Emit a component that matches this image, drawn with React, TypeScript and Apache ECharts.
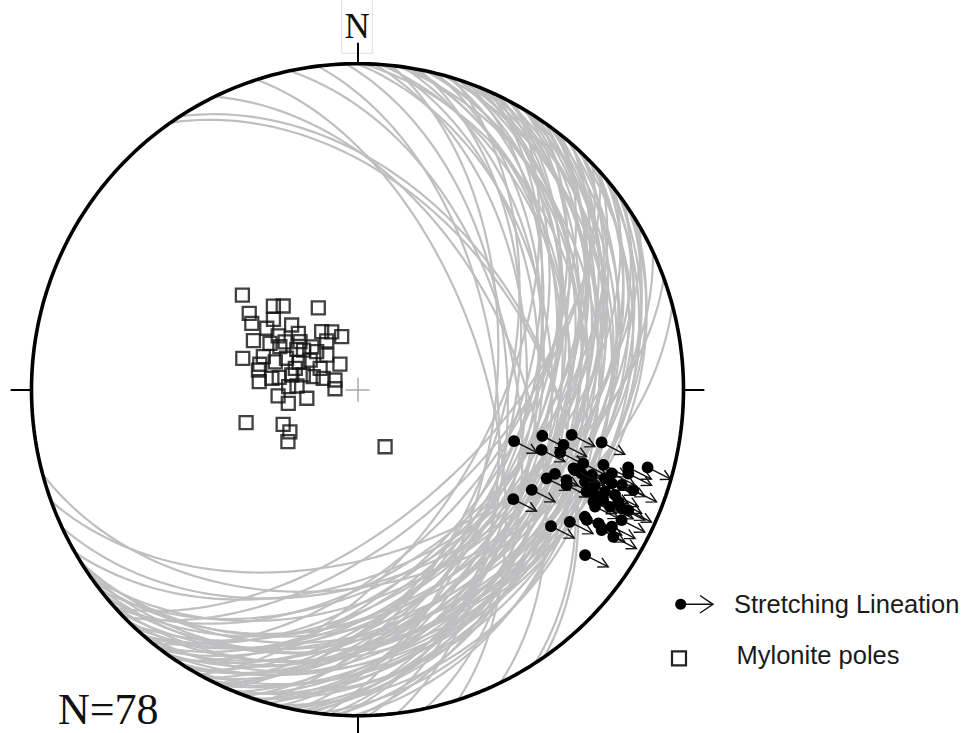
import React, { useEffect, useRef } from "react";
import * as echarts from "echarts";

// ---------------- data (orientations in degrees) ----------------
// Mylonite foliation planes: [dip direction, dip]
const planes: [number, number][] = [
  [55, 45], [57, 44], [64, 50], [72, 58], [78, 50], [83, 55],
  [165, 40], [155, 42], [150, 45], [160, 48],
  [88, 52], [90, 40], [91, 30], [93, 47], [94, 35], [96, 55], [97, 27], [98, 43],
  [100, 38], [101, 50], [102, 31], [104, 45], [105, 24], [106, 41], [107, 53], [108, 34],
  [109, 28], [110, 47], [111, 37], [112, 42], [113, 25], [114, 50], [115, 33], [116, 44],
  [117, 29], [118, 39], [119, 56], [120, 26], [121, 45], [122, 35], [123, 31], [124, 49],
  [125, 40], [126, 27], [127, 43], [128, 36], [129, 52], [130, 30], [131, 46], [132, 24],
  [133, 38], [134, 42], [135, 28], [136, 55], [137, 33], [138, 47], [139, 25], [140, 37],
  [141, 30], [142, 44], [143, 27], [144, 35], [145, 40], [146, 26], [147, 32], [148, 29],
  [99, 36], [103, 33], [112, 30], [118, 46], [121, 38], [126, 34], [131, 41], [95, 44],
  [108, 39], [115, 48], [138, 58], [128, 45],
];

// Mylonite poles: [trend, plunge]
const poles: [number, number][] = [
  [309.4, 52.3], [314.8, 60.2], [318.4, 61.9], [334.4, 67.3], [305.2, 56.6],
  [309.9, 62.5], [302.1, 58.6], [304.1, 62.5], [314.5, 66.9], [304.1, 66.0],
  [313.6, 69.6], [328.3, 73.0], [336.0, 74.2], [343.4, 76.2], [295.2, 61.1],
  [297.9, 65.2], [303.5, 68.3], [309.9, 71.3], [313.2, 74.4], [327.8, 75.6],
  [303.6, 71.8], [285.3, 60.1], [284.6, 64.7], [288.7, 68.3], [293.9, 70.6],
  [295.1, 73.9], [302.0, 76.1], [318.4, 78.5], [299.7, 79.3], [325.4, 82.3],
  [274.7, 65.3], [279.0, 70.2], [282.6, 73.2], [285.2, 76.0], [288.4, 81.0],
  [293.3, 83.9], [273.5, 74.9], [265.5, 70.1], [258.9, 72.4], [260.4, 77.2],
  [253.5, 60.8], [245.0, 69.5], [238.1, 70.1], [233.3, 68.3], [154.2, 74.2],
  [289.3, 65.0], [306.2, 73.3], [286.4, 78.5], [272.4, 84.4], [272.5, 72.8],
  [281.2, 64.7], [313.0, 76.1], [288.9, 73.6], [277.6, 68.4], [299.0, 67.8],
];

// Stretching lineations: [trend, plunge]
const lineations: [number, number][] = [
  [108.2, 48.1], [104.0, 41.2], [101.9, 33.3], [108.1, 40.3], [105.0, 34.9],
  [107.2, 35.2], [102.2, 24.4], [110.0, 30.2], [108.1, 28.0], [107.0, 22.2],
  [106.0, 14.7], [105.0, 8.7], [115.1, 36.1], [113.1, 34.5], [113.4, 30.8],
  [110.5, 27.5], [110.0, 24.5], [109.7, 20.5], [107.2, 14.1], [114.5, 30.2],
  [112.0, 25.7], [111.9, 22.6], [110.2, 18.0], [109.8, 14.9], [110.0, 10.9],
  [119.9, 38.3], [114.0, 24.1], [113.9, 21.4], [112.4, 19.0], [112.2, 15.8],
  [125.1, 41.2], [115.4, 21.0], [114.2, 18.5], [113.2, 14.0], [116.2, 19.9],
  [114.9, 15.7], [114.2, 12.2], [114.0, 10.0], [119.2, 21.2], [119.6, 20.2],
  [121.9, 24.3], [125.2, 28.2], [119.0, 16.6], [119.9, 14.7], [118.3, 12.4],
  [116.3, 10.6], [119.9, 10.4], [126.0, 14.8], [110.3, 29.6], [108.2, 19.0],
];

// shear sense shown by the arrows (azimuth, degrees)
const shearSense = 117;
const northLabel = "N";
const countLabel = "N=78";
const legendLabels = ["Stretching Lineation", "Mylonite poles"];

// ---------------- layout ----------------
const W = 968;
const H = 733;
const CX = 357.5;
const CY = 389.7;
const RP = 326;
const D2R = Math.PI / 180;

function project(trend: number, plunge: number): [number, number] {
  const r = Math.SQRT2 * Math.sin(((90 - plunge) / 2) * D2R);
  return [r * Math.sin(trend * D2R), r * Math.cos(trend * D2R)];
}

function greatCircle(dd: number, dip: number): [number, number][] {
  const pts: [number, number][] = [];
  const td = Math.tan(dip * D2R);
  for (let t = -90; t <= 90; t += 1.5) {
    const p = Math.atan(td * Math.cos(t * D2R)) / D2R;
    pts.push(project(dd + t, p));
  }
  return pts;
}

export default function App() {
  const ref = useRef<HTMLDivElement>(null);

  useEffect(() => {
    if (!ref.current) return;
    const chart = echarts.init(ref.current, undefined, { renderer: "svg" });

    const primitive: [number, number][] = [];
    for (let a = 0; a <= 360; a += 1) primitive.push([Math.sin(a * D2R), Math.cos(a * D2R)]);

    const tickLen = 0.064;
    const ticks = [0, 90, 180, 270].map((a) => ({
      coords: [
        [Math.sin(a * D2R), Math.cos(a * D2R)],
        [(1 + tickLen) * Math.sin(a * D2R), (1 + tickLen) * Math.cos(a * D2R)],
      ],
    }));
    const cr = 0.037;
    const cross = [
      { coords: [[-cr, 0], [cr, 0]] },
      { coords: [[0, -cr], [0, cr]] },
    ];

    const sx = Math.sin(shearSense * D2R);
    const sy = -Math.cos(shearSense * D2R);
    const arrowLen = 26;
    const armLen = 11;
    const armAng = 28 * D2R;

    const renderItem = (params: any, api: any) => {
      const p = api.coord([api.value(0), api.value(1)]);
      const tx = p[0] + sx * arrowLen;
      const ty = p[1] + sy * arrowLen;
      const bx = -sx;
      const by = -sy;
      const a1x = tx + armLen * (bx * Math.cos(armAng) - by * Math.sin(armAng));
      const a1y = ty + armLen * (bx * Math.sin(armAng) + by * Math.cos(armAng));
      const a2x = tx + armLen * (bx * Math.cos(-armAng) - by * Math.sin(-armAng));
      const a2y = ty + armLen * (bx * Math.sin(-armAng) + by * Math.cos(-armAng));
      return {
        type: "group",
        children: [
          { type: "line", shape: { x1: p[0], y1: p[1], x2: tx, y2: ty }, style: { stroke: "#111", lineWidth: 1.4 } },
          { type: "polyline", shape: { points: [[a1x, a1y], [tx, ty], [a2x, a2y]] }, style: { stroke: "#111", fill: "none", lineWidth: 1.4 } },
          { type: "circle", shape: { cx: p[0], cy: p[1], r: 5.9 }, style: { fill: "#000" } },
        ],
      };
    };

    const serif = '"Liberation Serif", "Times New Roman", serif';
    const sans = '"Liberation Sans", Arial, sans-serif';

    const option: any = {
      animation: false,
      grid: { left: 0, top: 0, right: 0, bottom: 0 },
      xAxis: { type: "value", min: -CX / RP, max: (W - CX) / RP, show: false },
      yAxis: { type: "value", min: (CY - H) / RP, max: CY / RP, show: false },
      series: [
        {
          type: "lines",
          coordinateSystem: "cartesian2d",
          polyline: true,
          silent: true,
          data: planes.map(([dd, dip]) => ({ coords: greatCircle(dd, dip) })),
          lineStyle: { color: "#bfbfc1", width: 2.2, opacity: 1 },
          z: 1,
        },
        {
          type: "lines",
          coordinateSystem: "cartesian2d",
          silent: true,
          data: cross,
          lineStyle: { color: "#a9a9a9", width: 1.5, opacity: 1 },
          z: 2,
        },
        {
          type: "line",
          data: primitive,
          showSymbol: false,
          silent: true,
          lineStyle: { color: "#000", width: 3.6 },
          z: 3,
        },
        {
          type: "lines",
          coordinateSystem: "cartesian2d",
          silent: true,
          data: ticks,
          lineStyle: { color: "#000", width: 2, opacity: 1 },
          z: 3,
        },
        {
          type: "scatter",
          data: poles.map(([t, p]) => project(t, p)),
          symbol: "rect",
          symbolSize: 13,
          silent: true,
          itemStyle: { color: "rgba(0,0,0,0)", borderColor: "#111", borderWidth: 2.3 },
          z: 4,
        },
        {
          type: "custom",
          data: lineations.map(([t, p]) => project(t, p)),
          encode: { x: 0, y: 1 },
          renderItem,
          silent: true,
          z: 5,
        },
      ],
      graphic: [
        {
          type: "rect",
          shape: { x: 341.7, y: -1, width: 30.6, height: 54.3 },
          style: { fill: "none", stroke: "#dedede", lineWidth: 1 },
        },
        {
          type: "text",
          style: {
            text: northLabel, x: 357.2, y: 26.5, font: `35px ${serif}`, fill: "#111",
            textAlign: "center", textVerticalAlign: "middle", align: "center", verticalAlign: "middle",
          },
        },
        {
          type: "text",
          style: {
            text: countLabel, x: 58, y: 709.5, font: `44px ${serif}`, fill: "#111",
            textAlign: "left", textVerticalAlign: "middle", align: "left", verticalAlign: "middle",
          },
        },
        { type: "line", shape: { x1: 680.7, y1: 604.3, x2: 713, y2: 604.3 }, style: { stroke: "#111", lineWidth: 1.4 } },
        { type: "polyline", shape: { points: [[700, 595.5], [713, 604.3], [700, 613]] }, style: { stroke: "#111", fill: "none", lineWidth: 1.4 } },
        { type: "circle", shape: { cx: 680.7, cy: 604.3, r: 5.5 }, style: { fill: "#000" } },
        {
          type: "text",
          style: {
            text: legendLabels[0], x: 734, y: 603.5, font: `25.5px ${sans}`, fill: "#1a1a1a",
            textAlign: "left", textVerticalAlign: "middle", align: "left", verticalAlign: "middle",
          },
        },
        { type: "rect", shape: { x: 672, y: 651.3, width: 14, height: 14 }, style: { fill: "none", stroke: "#222", lineWidth: 2.2 } },
        {
          type: "text",
          style: {
            text: legendLabels[1], x: 736.5, y: 654.5, font: `25.5px ${sans}`, fill: "#1a1a1a",
            textAlign: "left", textVerticalAlign: "middle", align: "left", verticalAlign: "middle",
          },
        },
      ],
    };

    chart.setOption(option);
    return () => chart.dispose();
  }, []);

  return <div ref={ref} style={{ position: "absolute", left: 0, top: 0, width: W, height: H }} />;
}
